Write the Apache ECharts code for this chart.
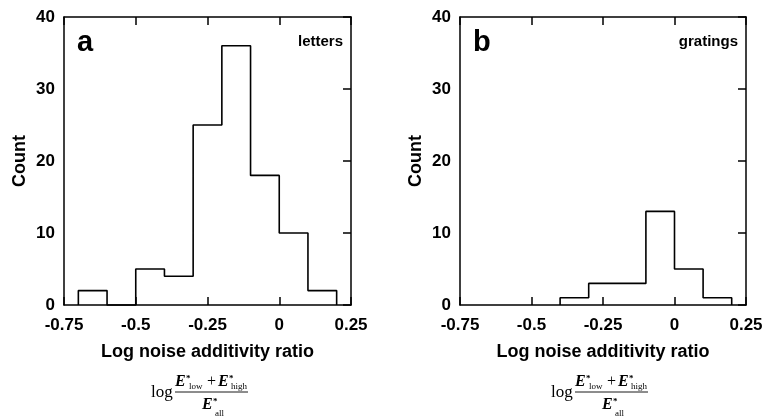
<!DOCTYPE html>
<html>
<head>
<meta charset="utf-8">
<script src="https://cdn.jsdelivr.net/npm/echarts@6/dist/echarts.min.js"></script>
<style>
  html, body { margin: 0; padding: 0; background: #fff; }
  #chart { width: 766px; height: 418px; }
</style>
</head>
<body>
<div id="chart"></div>
<script>
// Histogram bins: left edges of each bin plus the final right edge
const lettersEdges = [-0.7, -0.6, -0.5, -0.4, -0.3, -0.2, -0.1, 0, 0.1, 0.2];
const lettersCounts = [2, 0, 5, 4, 25, 36, 18, 10, 2];
const gratingsEdges = [-0.4, -0.3, -0.2, -0.1, 0, 0.1, 0.2];
const gratingsCounts = [1, 3, 3, 13, 5, 1];

// Axis settings
const xTicks = [-0.75, -0.5, -0.25, 0, 0.25];
const yTicks = [0, 10, 20, 30, 40];
const panelLetters = ['a', 'b'];
const panelTags = ['letters', 'gratings'];
const xTitle = 'Log noise additivity ratio';
const yTitle = 'Count';

const SANS = '"Liberation Sans", Arial, Helvetica, sans-serif';
const SERIF = '"Liberation Serif", "Times New Roman", serif';

// Outline of a histogram as a stepped polyline
function stepOutline(edges, counts) {
  const pts = [[edges[0], 0]];
  counts.forEach((c, i) => {
    pts.push([edges[i], c]);
    pts.push([edges[i + 1], c]);
  });
  pts.push([edges[edges.length - 1], 0]);
  return pts;
}

const grids = [
  { left: 64, top: 17, width: 287, height: 288 },
  { left: 460, top: 17, width: 286, height: 288 }
];

const axisLine = { show: true, onZero: false, lineStyle: { color: '#000', width: 1.5 } };
const tickStyle = { show: true, inside: true, length: 8, lineStyle: { color: '#000', width: 1.5 } };
const labelFont = { color: '#000', fontFamily: SANS, fontWeight: 'bold', fontSize: 17 };

const xAxis = [];
const yAxis = [];
grids.forEach((g, i) => {
  xAxis.push({
    type: 'value', gridIndex: i, position: 'bottom',
    min: xTicks[0], max: xTicks[xTicks.length - 1], interval: 0.25,
    axisLine, axisTick: tickStyle, splitLine: { show: false },
    axisLabel: Object.assign({ margin: 12, formatter: v => String(+v.toFixed(2)) }, labelFont),
    name: xTitle, nameLocation: 'middle', nameGap: 38,
    nameTextStyle: { color: '#000', fontFamily: SANS, fontWeight: 'bold', fontSize: 18 }
  });
  xAxis.push({
    type: 'value', gridIndex: i, position: 'top',
    min: xTicks[0], max: xTicks[xTicks.length - 1], interval: 0.25,
    axisLine, axisTick: tickStyle, axisLabel: { show: false }, splitLine: { show: false }
  });
  yAxis.push({
    type: 'value', gridIndex: i, position: 'left',
    min: yTicks[0], max: yTicks[yTicks.length - 1], interval: 10,
    axisLine, axisTick: { show: false }, splitLine: { show: false },
    axisLabel: Object.assign({ margin: 9 }, labelFont),
    name: yTitle, nameLocation: 'middle', nameGap: 35,
    nameTextStyle: { color: '#000', fontFamily: SANS, fontWeight: 'bold', fontSize: 18 }
  });
  yAxis.push({
    type: 'value', gridIndex: i, position: 'right',
    min: yTicks[0], max: yTicks[yTicks.length - 1], interval: 10,
    axisLine, axisTick: tickStyle, axisLabel: { show: false }, splitLine: { show: false }
  });
});

const series = [
  [lettersEdges, lettersCounts],
  [gratingsEdges, gratingsCounts]
].map(([edges, counts], i) => ({
  type: 'line',
  xAxisIndex: i * 2,
  yAxisIndex: i * 2,
  data: stepOutline(edges, counts),
  symbol: 'none',
  clip: false,
  z: 5,
  lineStyle: { color: '#000', width: 1.6 },
  animation: false
}));

// Text helper for graphic elements
function txt(text, x, y, font, align) {
  return {
    type: 'text', x, y,
    style: {
      text, font, fill: '#000',
      textAlign: align || 'left', align: align || 'left',
      textVerticalAlign: 'middle', verticalAlign: 'middle'
    }
  };
}

// The ratio formula printed beneath each horizontal axis title
function formula(x, y) {
  const big = 'italic bold 16px ' + SERIF;
  const sup = 'bold 9px ' + SERIF;
  const sub = '9px ' + SERIF;
  return {
    type: 'group', x, y,
    children: [
      txt('log', 0, 1, '17px ' + SERIF),
      txt('E', 24, -10, big),
      txt('*', 35, -13, sup),
      txt('low', 38, -5, sub),
      txt('+', 56, -10, '16px ' + SERIF),
      txt('E', 67, -10, big),
      txt('*', 78, -13, sup),
      txt('high', 80, -5, sub),
      { type: 'line', shape: { x1: 24, y1: 0, x2: 97, y2: 0 }, style: { stroke: '#000', lineWidth: 0.9 } },
      txt('E', 51, 13, big),
      txt('*', 62, 10, sup),
      txt('all', 64, 22, sub)
    ]
  };
}

const graphic = [];
grids.forEach((g, i) => {
  graphic.push(txt(panelLetters[i], g.left + 13, 43, 'bold 29px ' + SANS));
  graphic.push(txt(panelTags[i], g.left + g.width - 8, 42, 'bold 15px ' + SANS, 'right'));
});
graphic.push(formula(151, 392));
graphic.push(formula(551, 392));

const chart = echarts.init(document.getElementById('chart'), null, { renderer: 'canvas' });
chart.setOption({
  backgroundColor: '#fff',
  animation: false,
  grid: grids,
  xAxis,
  yAxis,
  series,
  graphic
});
</script>
</body>
</html>
